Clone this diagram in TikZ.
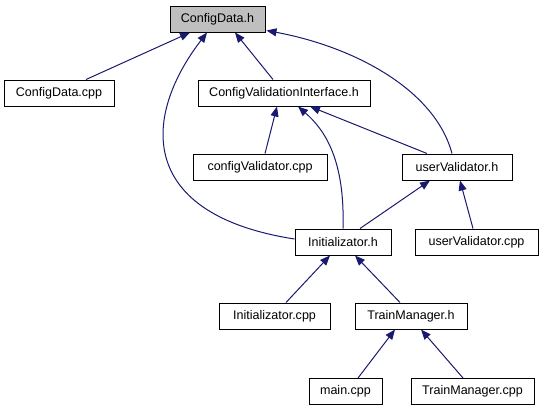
\documentclass[tikz,border=0pt]{standalone}
\usepackage{fontspec}
\setmainfont{Liberation Sans}
\usetikzlibrary{arrows.meta,calc}
\definecolor{edgeblue}{RGB}{25,25,112}
\definecolor{rootgray}{RGB}{191,191,191}
\begin{document}
\begin{tikzpicture}[x=0.75pt,y=-0.75pt,
  box/.style={draw=black,line width=0.75pt,fill=white,minimum height=26*0.75pt,inner sep=0pt,font=\fontsize{9.4}{11}\selectfont},
  dep/.style={draw=edgeblue,line width=0.75pt,-{Triangle[length=7.5pt,width=6pt]},fill=none}]
\useasboundingbox (0,0) rectangle (543,411);
\node[box,fill=rootgray,minimum width=95*0.75pt] (cdh) at (217.5,19) {ConfigData.h};
\node[box,minimum width=110*0.75pt] (cdcpp) at (59,93) {ConfigData.cpp};
\node[box,minimum width=172*0.75pt] (cvi) at (284,93) {ConfigValidationInterface.h};
\node[box,minimum width=134*0.75pt] (cvcpp) at (260,167) {configValidator.cpp};
\node[box,minimum width=110*0.75pt] (uvh) at (457,167) {userValidator.h};
\node[box,minimum width=96*0.75pt] (inith) at (343,242) {Initializator.h};
\node[box,minimum width=123*0.75pt] (uvcpp) at (476.5,242) {userValidator.cpp};
\node[box,minimum width=111*0.75pt] (initcpp) at (274.5,316) {Initializator.cpp};
\node[box,minimum width=112*0.75pt] (tmh) at (411,316) {TrainManager.h};
\node[box,minimum width=73*0.75pt] (maincpp) at (345.5,391.5) {main.cpp};
\node[box,minimum width=123*0.75pt] (tmcpp) at (472.5,391.5) {TrainManager.cpp};

\draw[dep] ($(cdcpp.north)+(27,0)$) -- ($(cdh.south)+(-27.5,0)$);
\draw[dep] ($(inith.west)+(0,-3)$) .. controls (140,215) and (140,120) .. ($(cdh.south)+(-10.5,0)$);
\draw[dep] ($(cvi.north)+(-11,0)$) -- ($(cdh.south)+(17.5,0)$);
\draw[dep] ($(uvh.north)+(-5,0)$) .. controls (435,90) and (355,47) .. ($(cdh.south east)+(1,-2)$);
\draw[dep] ($(cvcpp.north)+(5,0)$) -- ($(cvi.south)+(-7,0)$);
\draw[dep] (inith.north) .. controls (345,160) and (325,130) .. ($(cvi.south)+(14,0)$);
\draw[dep] ($(uvh.north)+(-30,0)$) -- ($(cvi.south)+(26,0)$);
\draw[dep] ($(inith.north)+(17,0)$) -- ($(uvh.south)+(-27,0)$);
\draw[dep] ($(uvcpp.north)+(-3.5,0)$) -- ($(uvh.south)+(3,0)$);
\draw[dep] ($(initcpp.north)+(11.5,0)$) -- ($(inith.south)+(-13,0)$);
\draw[dep] ($(tmh.north)+(-11,0)$) -- ($(inith.south)+(12,0)$);
\draw[dep] ($(maincpp.north)+(12.5,0)$) -- ($(tmh.south)+(-16,0)$);
\draw[dep] ($(tmcpp.north)+(-9.5,0)$) -- ($(tmh.south)+(10,0)$);
\end{tikzpicture}
\end{document}
